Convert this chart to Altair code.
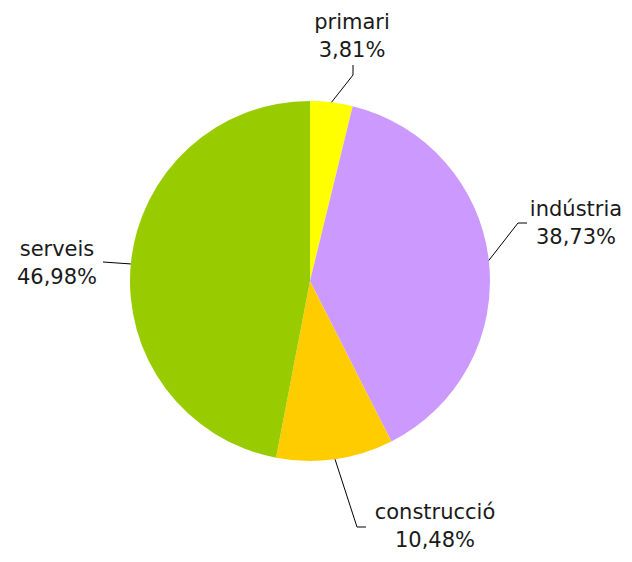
import math
import altair as alt
import pandas as pd

# ---- data ----
categories = ["primari", "indústria", "construcció", "serveis"]
values = [3.81, 38.73, 10.48, 46.98]
pct_labels = ["3,81%", "38,73%", "10,48%", "46,98%"]
colors = ["#FFFF00", "#CC99FF", "#FFCC00", "#99CC00"]

# ---- layout (pixel offsets from the pie centre, y downwards) ----
RADIUS = 180
CX, CY = 302, 273          # pie centre inside the plot area
W, H = 616, 546
label_pos = [(42, -244), (266, -57), (125, 246), (-253, -17)]
elbow_pos = [(43, -206), (208, -58), (47, 246), (-207, -19)]
end_pos = [(43, -216), (217, -58), (56, 246), (-207, -19)]
LINE_GAP = 14

pie_df = pd.DataFrame({"cat": categories, "value": values, "idx": range(len(values))})

# leader lines: start at slice mid-angle on the rim
total = sum(values)
rows = []
cum = 0.0
for i, (c, v) in enumerate(zip(categories, values)):
    mid = (cum + v / 2) / total * 2 * math.pi
    cum += v
    sx, sy = RADIUS * math.sin(mid), -RADIUS * math.cos(mid)
    rows.append({"cat": c, "pt": 0, "x": sx, "y": sy})
    rows.append({"cat": c, "pt": 1, "x": elbow_pos[i][0], "y": elbow_pos[i][1]})
    rows.append({"cat": c, "pt": 2, "x": end_pos[i][0], "y": end_pos[i][1]})
line_df = pd.DataFrame(rows)

trows = []
for i, c in enumerate(categories):
    lx, ly = label_pos[i]
    trows.append({"t": c, "x": lx, "y": ly - LINE_GAP})
    trows.append({"t": pct_labels[i], "x": lx, "y": ly + LINE_GAP})
text_df = pd.DataFrame(trows)

xs = alt.Scale(domain=[-CX, W - CX], nice=False, zero=False)
ys = alt.Scale(domain=[-CY, H - CY], nice=False, zero=False, reverse=True)

pie = alt.Chart(pie_df).mark_arc(outerRadius=RADIUS).encode(
    theta=alt.Theta("value:Q", stack=True),
    color=alt.Color("cat:N", scale=alt.Scale(domain=categories, range=colors), legend=None),
    order=alt.Order("idx:Q"),
    x=alt.value(CX),
    y=alt.value(CY),
)

lines = alt.Chart(line_df).mark_line(color="#000000", strokeWidth=1).encode(
    x=alt.X("x:Q", scale=xs, axis=None),
    y=alt.Y("y:Q", scale=ys, axis=None),
    detail="cat:N",
    order="pt:Q",
)

texts = alt.Chart(text_df).mark_text(
    font="DejaVu Sans", fontSize=21, color="#1a1a1a", align="center", baseline="middle"
).encode(
    x=alt.X("x:Q", scale=xs, axis=None),
    y=alt.Y("y:Q", scale=ys, axis=None),
    text="t:N",
)

chart = alt.layer(pie, lines, texts).properties(
    width=W, height=H,
    autosize=alt.AutoSizeParams(type="none"),
    padding=0,
).configure_view(stroke=None)

chart.save("out.html", embed_options={"renderer": "svg", "actions": False})
